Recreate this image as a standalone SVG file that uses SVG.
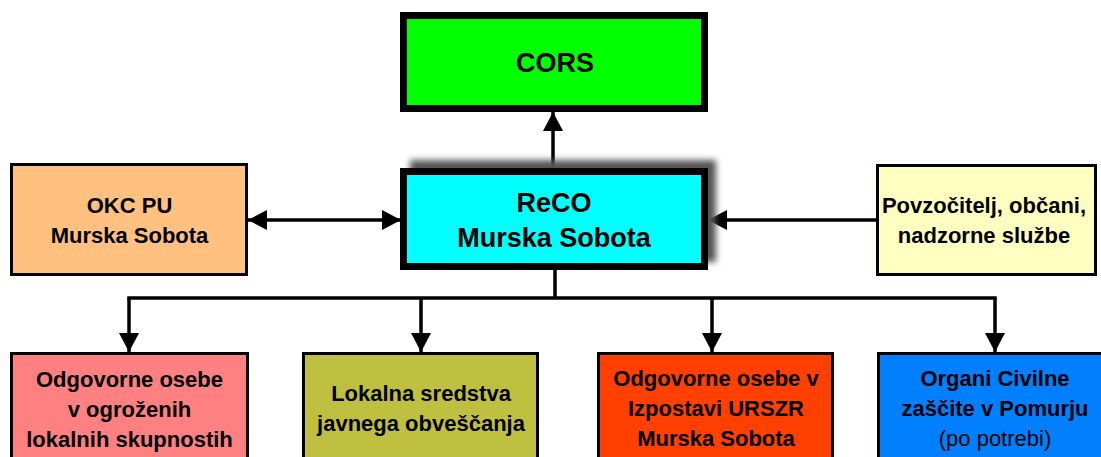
<svg xmlns="http://www.w3.org/2000/svg" width="1101" height="457" viewBox="0 0 1101 457">
<style>
text{font-family:"Liberation Sans",Arial,sans-serif;font-weight:bold;fill:#000;text-anchor:middle}
.big{font-size:27px}
.sm{font-size:22px}
.reg{font-weight:normal}
.box{stroke:#000;stroke-width:3}
.main{stroke:#000;stroke-width:7}
.con{stroke:#000;stroke-width:3.5;fill:none}
</style>
<defs>
<marker id="ah" markerUnits="userSpaceOnUse" markerWidth="20" markerHeight="20" refX="19" refY="10" orient="auto-start-reverse" viewBox="0 0 20 20">
<path d="M0,0 L19,10 L0,20 z" fill="#000"/>
</marker>
<filter id="sh" x="-10%" y="-20%" width="120%" height="140%">
<feGaussianBlur stdDeviation="3"/>
</filter>
</defs>
<g id="connectors">
<line class="con" x1="553" y1="168" x2="553" y2="112" marker-end="url(#ah)"/>
<line class="con" x1="248" y1="220" x2="401" y2="220" marker-start="url(#ah)" marker-end="url(#ah)"/>
<line class="con" x1="876" y1="220" x2="708" y2="220" marker-end="url(#ah)"/>
<polyline class="con" points="555,270 555,298"/>
<line class="con" x1="127.25" y1="298" x2="996.75" y2="298"/>
<line class="con" x1="129" y1="298" x2="129" y2="352" marker-end="url(#ah)"/>
<line class="con" x1="421" y1="298" x2="421" y2="352" marker-end="url(#ah)"/>
<line class="con" x1="712" y1="298" x2="712" y2="352" marker-end="url(#ah)"/>
<line class="con" x1="995" y1="298" x2="995" y2="352" marker-end="url(#ah)"/>
</g>
<g id="cors">
<rect class="main" x="403.5" y="15.5" width="301" height="93" fill="#00FF00"/>
<text class="big" x="555" y="72">CORS</text>
</g>
<g id="reco">
<rect x="410" y="160" width="306" height="102" fill="#555" filter="url(#sh)"/>
<rect class="main" x="403.5" y="171.5" width="301" height="95" fill="#00FFFF"/>
<text class="big" x="554" y="212">ReCO</text>
<text class="big" x="554" y="247">Murska Sobota</text>
</g>
<g id="okc">
<rect class="box" x="11.5" y="164.5" width="235" height="110" fill="#FFC080"/>
<text class="sm" x="129.5" y="213">OKC PU</text>
<text class="sm" x="129.5" y="243">Murska Sobota</text>
</g>
<g id="povzocitelj">
<rect class="box" x="877.5" y="165.5" width="218" height="109" fill="#FFFFC0"/>
<text class="sm" x="984" y="213">Povzočitelj, občani,</text>
<text class="sm" x="984" y="243">nadzorne službe</text>
</g>
<g id="odgovorne-lokalne">
<rect class="box" x="11.5" y="353.5" width="236" height="120" fill="#FF8080"/>
<text class="sm" x="129.5" y="387">Odgovorne osebe</text>
<text class="sm" x="129.5" y="417">v ogroženih</text>
<text class="sm" x="129.5" y="447">lokalnih skupnostih</text>
</g>
<g id="lokalna-sredstva">
<rect class="box" x="303.5" y="353.5" width="234" height="120" fill="#C0C040"/>
<text class="sm" x="421" y="401">Lokalna sredstva</text>
<text class="sm" x="421" y="431">javnega obveščanja</text>
</g>
<g id="odgovorne-urszr">
<rect class="box" x="598.5" y="353.5" width="234" height="120" fill="#FF4000"/>
<text class="sm" x="716" y="386">Odgovorne osebe v</text>
<text class="sm" x="716" y="416">Izpostavi URSZR</text>
<text class="sm" x="716" y="446">Murska Sobota</text>
</g>
<g id="civilna-zascita">
<rect class="box" x="878.5" y="353.5" width="234" height="120" fill="#0080FF"/>
<text class="sm" x="995" y="386">Organi Civilne</text>
<text class="sm" x="995" y="416">zaščite v Pomurju</text>
<text class="sm reg" x="995" y="446">(po potrebi)</text>
</g>
</svg>
